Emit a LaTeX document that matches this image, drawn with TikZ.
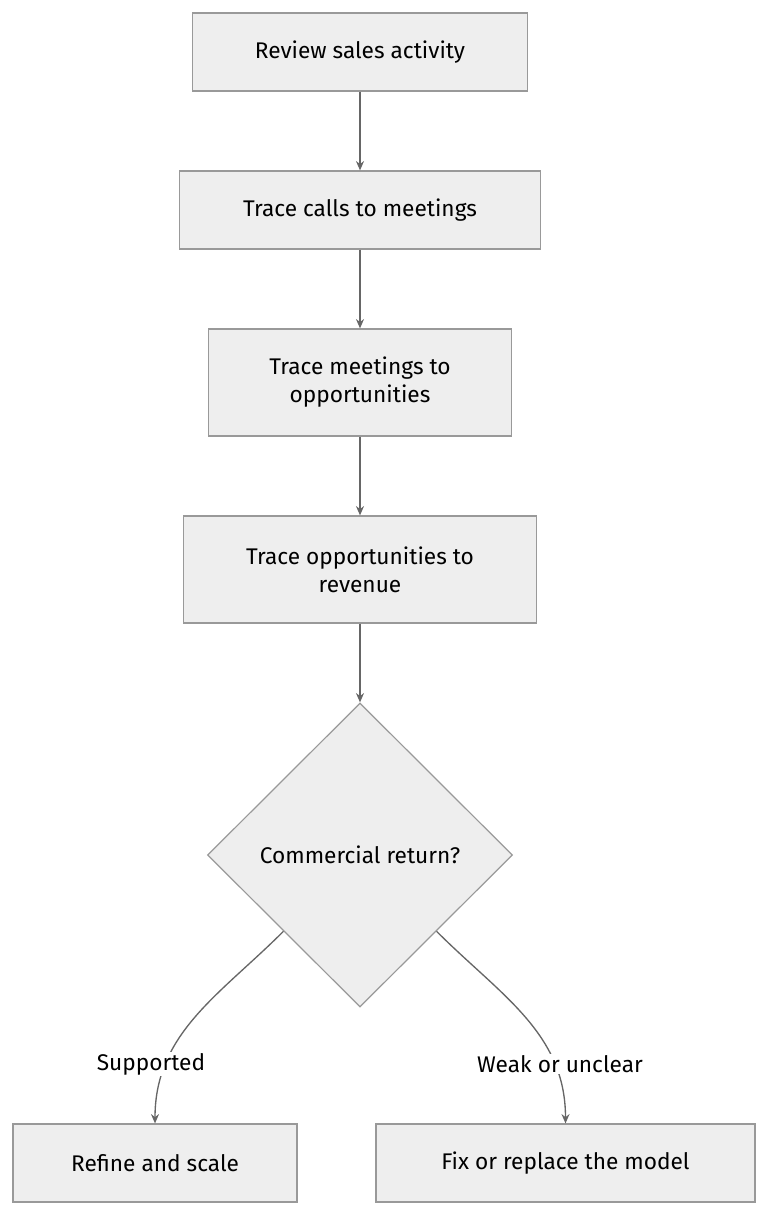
\documentclass[tikz,border=0pt]{standalone}
\usepackage{fontspec}
\setmainfont{Fira Sans}
\usetikzlibrary{shapes.geometric,arrows.meta}
\newlength\px
\setlength\px{0.75pt}
\definecolor{boxfill}{HTML}{EEEEEE}
\definecolor{boxline}{HTML}{999999}
\definecolor{arrowline}{HTML}{666666}
\tikzset{
  stage/.style={draw=boxline, fill=boxfill, line width=0.9pt, align=center,
    font=\fontsize{17}{21}\selectfont, inner sep=0pt},
  flow/.style={draw=arrowline, line width=1pt, -{Stealth[length=7pt,width=6pt]}},
  edgelabel/.style={font=\fontsize{17}{21}\selectfont, fill=white, inner sep=1pt}
}
\begin{document}
\begin{tikzpicture}[x=0.75pt,y=-0.75pt]
  \useasboundingbox (0,0) rectangle (768,1216);
  \node[stage, minimum width=335\px, minimum height=78\px] (review) at (360,52) {Review sales activity};
  \node[stage, minimum width=361\px, minimum height=78\px] (calls) at (360,210) {Trace calls to meetings};
  \node[stage, minimum width=303\px, minimum height=107\px] (meet) at (360,382.5) {Trace meetings to\\opportunities};
  \node[stage, minimum width=353\px, minimum height=107\px] (opp) at (360,569.5) {Trace opportunities to\\revenue};
  \node[stage, diamond, minimum width=305\px, minimum height=304\px] (ret) at (360,855) {Commercial return?};
  \node[stage, minimum width=284\px, minimum height=78\px] (scale) at (155,1163) {Refine and scale};
  \node[stage, minimum width=379\px, minimum height=78\px] (fix) at (565.5,1163) {Fix or replace the model};

  \draw[flow] (review) -- (calls);
  \draw[flow] (calls) -- (meet);
  \draw[flow] (meet) -- (opp);
  \draw[flow] (opp) -- (ret);
  \draw[flow] (ret.south west) to[out=-135,in=90] (scale.north);
  \draw[flow] (ret.south east) to[out=-45,in=90] (fix.north);

  \node[edgelabel] (lsup) at (151,1064) {Supported};
  \node[edgelabel] (lweak) at (560,1064) {Weak or unclear};
\end{tikzpicture}
\end{document}
